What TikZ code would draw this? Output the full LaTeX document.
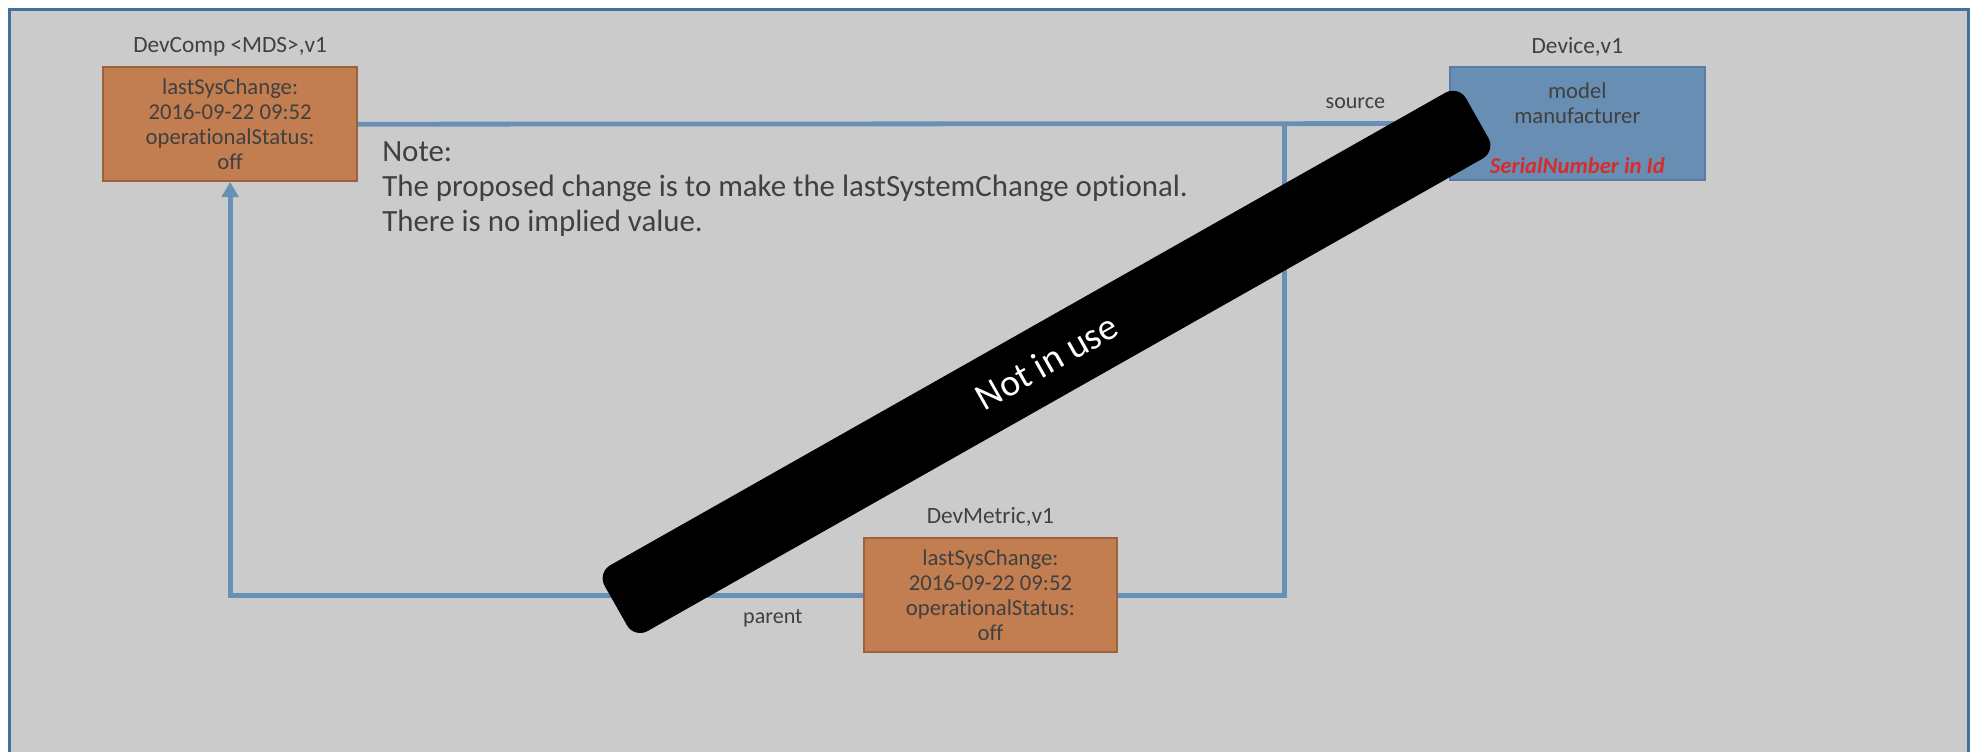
\documentclass[tikz,border=0pt]{standalone}
\usepackage{fontspec}
\setmainfont{Carlito}[Ligatures=NoCommon]
\usetikzlibrary{arrows.meta}
\definecolor{bgray}{RGB}{203,203,203}
\definecolor{frameblue}{RGB}{65,113,156}
\definecolor{ofill}{RGB}{194,125,80}
\definecolor{oborder}{RGB}{155,98,62}
\definecolor{bfill}{RGB}{104,142,180}
\definecolor{bborder}{RGB}{88,124,164}
\definecolor{conncol}{RGB}{104,143,182}
\definecolor{txt}{RGB}{64,64,64}
\definecolor{redtxt}{RGB}{214,44,44}
\begin{document}
\begin{tikzpicture}[x=1pt,y=-1pt,
  obox/.style={draw=oborder, fill=ofill, line width=1.6pt, minimum width=201pt, minimum height=90pt, align=center, text=txt, font=\fontsize{18}{20}\selectfont, inner sep=0pt},
  bbox/.style={draw=bborder, fill=bfill, line width=1.6pt, minimum width=202pt, minimum height=90pt, inner sep=0pt},
  boxtxt/.style={align=center, text=txt, font=\fontsize{18}{19.8}\selectfont, inner sep=0pt},
  titletxt/.style={text=txt, font=\fontsize{18.5}{20}\selectfont, inner sep=0pt},
  lbl/.style={text=txt, font=\fontsize{17.5}{20}\selectfont, inner sep=0pt},
  conn/.style={draw=conncol, line width=3.8pt},
  notetxt/.style={text=txt, font=\fontsize{24.5}{28}\selectfont, anchor=base west, inner sep=0pt},
  blackbar/.style={fill=black, rounded corners=12pt, minimum width=785pt, minimum height=60pt, text=white, font=\fontsize{30}{34}\selectfont}
]
\useasboundingbox (0,0) rectangle (1568,596.4);
\clip (0,0) rectangle (1568,596.4);
\fill[white] (0,0) rectangle (1568,596.4);
\draw[fill=bgray, draw=frameblue, line width=2.4pt] (7.5,7.5) rectangle (1561.5,640);

% nodes
\node[obox] (dc) at (182.5,98.5) {lastSysChange:\\2016-09-22 09:52\\operationalStatus:\\off};
\node[titletxt] (dct) at (182.5,37) {DevComp <MDS>,v1};
\node[bbox] (dv) at (1251,98) {};
\node[boxtxt] (dvtx) at (1251,102) {model\\manufacturer\\ \\{\color{redtxt}\bfseries\itshape SerialNumber in Id}};
\node[titletxt] (dvt) at (1251,37) {Device,v1};
\node[obox] (dm) at (785.5,472) {lastSysChange:\\2016-09-22 09:52\\operationalStatus:\\off};
\node[titletxt] (dmt) at (785.5,410) {DevMetric,v1};

% connectors
\coordinate (j1) at (1019,98);
\coordinate (j2) at (1019,472);
\draw[conn] (dc.east) -- (dv.west);
\draw[conn] (j1) -- (j2) -- (dm.east);
\draw[conn, -{Triangle[length=12pt,width=13pt]}] (dm.west) -| (dc.south);

\node[lbl] (src) at (1075,82) {source};
\node[lbl] (par) at (613,490) {parent};

% note
\node[notetxt] (n1) at (303,128) {Note:};
\node[notetxt] (n2) at (303,156) {The proposed change is to make the lastSystemChange optional.};
\node[notetxt] (n3) at (303,184) {There is no implied value.};

% not in use bar
\node[blackbar, rotate=29.5] (bar) at (830,287) {Not in use};
\end{tikzpicture}
\end{document}
